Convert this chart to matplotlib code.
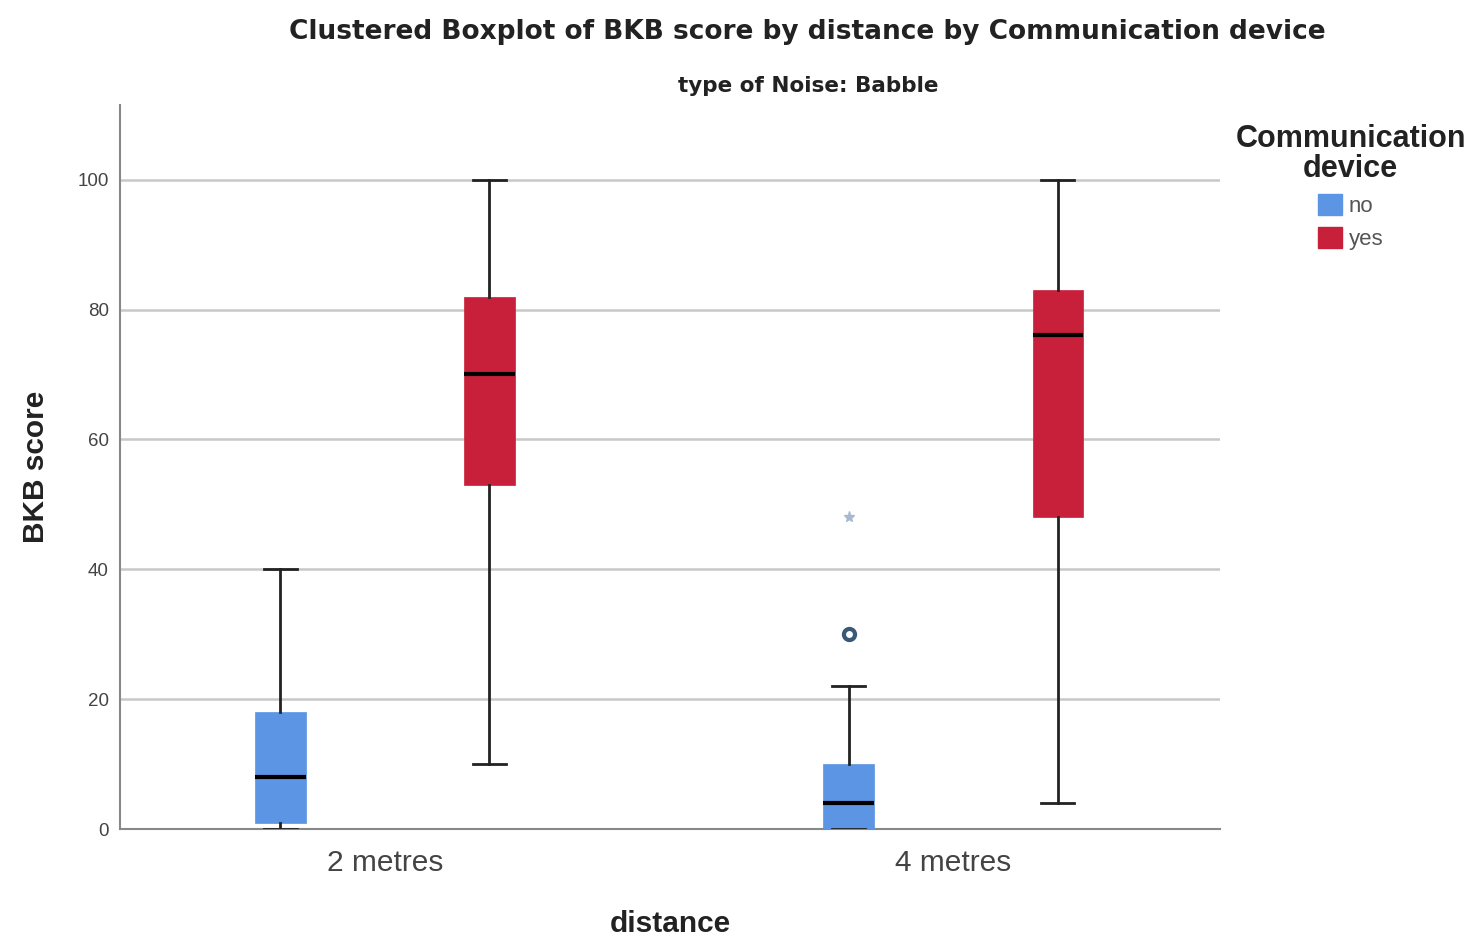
import numpy as np
import matplotlib.pyplot as plt
from matplotlib.patches import Patch

plt.rcParams['font.family'] = ['Liberation Sans', 'DejaVu Sans']

# Veriler
distances = ['2 metres', '4 metres']
devices = ['no', 'yes']
colors = ['#5B95E3', '#C8203A']

whislo = [[0, 10], [0, 4]]
q1 = [[1, 53], [0, 48]]
med = [[8, 70], [4, 76]]
q3 = [[18, 82], [10, 83]]
whishi = [[40, 100], [22, 100]]

# aykırı değerler: (mesafe indeksi, cihaz indeksi, değer)
outlier_idx = [(1, 0)]
outlier_vals = [30]
extreme_idx = [(1, 0)]
extreme_vals = [48]

fig = plt.figure(figsize=(14.73, 9.36), dpi=100)
ax = fig.add_axes([0.0815, 0.114, 0.747, 0.774])

offset = 0.184
width = 0.089
for i in range(len(distances)):
    for j in range(len(devices)):
        pos = i + (j - 0.5) * 2 * offset
        stats = [dict(whislo=whislo[i][j], q1=q1[i][j], med=med[i][j],
                      q3=q3[i][j], whishi=whishi[i][j], fliers=[])]
        ax.bxp(stats, positions=[pos], widths=width, patch_artist=True,
               showfliers=False,
               boxprops=dict(facecolor=colors[j], edgecolor=colors[j], linewidth=0.5),
               medianprops=dict(color='black', linewidth=3),
               whiskerprops=dict(color='#222222', linewidth=2),
               capprops=dict(color='#222222', linewidth=2),
               capwidths=width * 0.65, zorder=3)

for (i, j), v in zip(outlier_idx, outlier_vals):
    pos = i + (j - 0.5) * 2 * offset
    ax.plot(pos, v, 'o', markersize=8, markerfacecolor='white',
            markeredgecolor='#3A5878', markeredgewidth=3, zorder=4)
for (i, j), v in zip(extreme_idx, extreme_vals):
    pos = i + (j - 0.5) * 2 * offset
    ax.plot(pos, v, '*', markersize=8, color='#A9B8D0', zorder=4)

ax.set_xlim(-0.466, 1.47)
ax.set_ylim(0, 111.5)
ax.set_yticks([0, 20, 40, 60, 80, 100])
ax.set_xticks([0, 1])
ax.set_xticklabels(distances, fontsize=21.5, color='#444444')
ax.tick_params(axis='y', labelsize=13.5, colors='#444444', length=0, pad=8)
ax.tick_params(axis='x', length=0, pad=14)
ax.yaxis.grid(True, color='#C8C8C8', linewidth=1.8, zorder=0)
ax.set_axisbelow(True)
for s in ['top', 'right']:
    ax.spines[s].set_visible(False)
for s in ['left', 'bottom']:
    ax.spines[s].set_color('#888888')
    ax.spines[s].set_linewidth(1.5)

ax.set_ylabel('BKB score', fontsize=21.5, fontweight='bold', color='#222222', labelpad=20)
ax.set_xlabel('distance', fontsize=21.5, fontweight='bold', color='#222222', labelpad=24)

fig.text(0.548, 0.966, 'Clustered Boxplot of BKB score by distance by Communication device',
         ha='center', va='center', fontsize=19, fontweight='bold', color='#222222',
         family='DejaVu Sans')
fig.text(0.549, 0.908, 'type of Noise: Babble', ha='center', va='center',
         fontsize=15.5, fontweight='bold', color='#222222', family='DejaVu Sans')

handles = [Patch(facecolor=c, edgecolor=c) for c in colors]
leg = fig.legend(handles, devices, title='Communication\ndevice', loc='upper center',
                 bbox_to_anchor=(0.917, 0.889), frameon=False, fontsize=16,
                 title_fontproperties=dict(size=22, weight='bold'),
                 handlelength=1.1, handleheight=1.1, handletextpad=0.3,
                 labelspacing=0.45, labelcolor='#555555')
leg.get_title().set_multialignment('center')
leg.get_title().set_color('#222222')
leg.get_title().set_linespacing(1.0)

plt.savefig('out.png', dpi=100)
